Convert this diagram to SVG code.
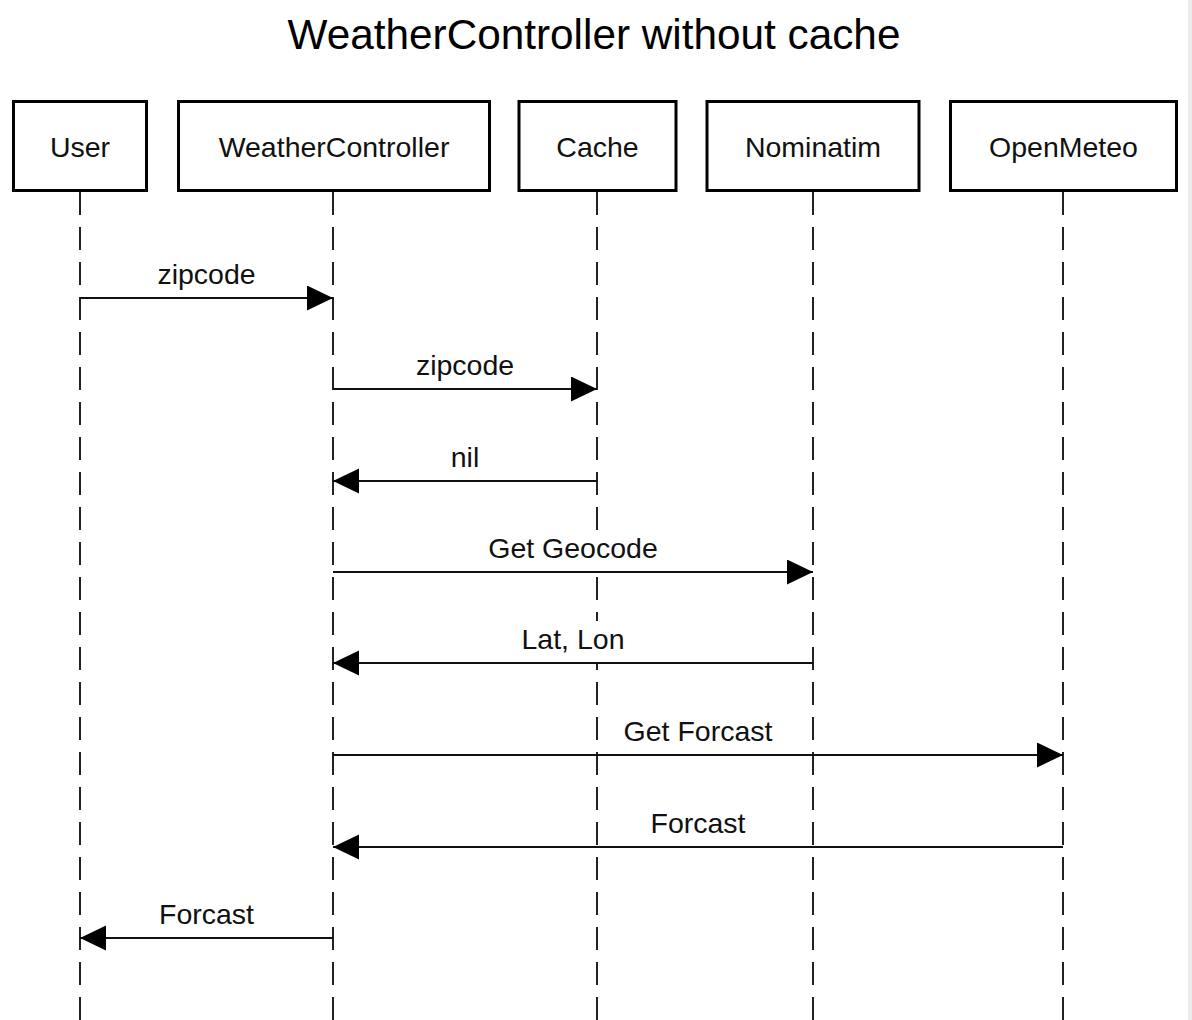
<svg xmlns="http://www.w3.org/2000/svg" width="1192" height="1020" viewBox="0 0 1192 1020">
<style>
.box{fill:#fff;stroke:#000;stroke-width:3}
.lbl{font-family:"Liberation Sans",Arial,Helvetica,sans-serif;font-size:28.5px;fill:#111;text-anchor:middle}
.title{font-family:"Liberation Sans",Arial,Helvetica,sans-serif;font-size:42.3px;fill:#000;text-anchor:middle}
.life{stroke:#222;stroke-width:2;stroke-dasharray:23 12;fill:none}
.msg{stroke:#111;stroke-width:2;fill:none;marker-end:url(#arr)}
.bg{fill:#fff;stroke:none}
</style>
<defs>
<marker id="arr" markerUnits="userSpaceOnUse" markerWidth="27" markerHeight="26" refX="26" refY="12.5" orient="auto">
<path d="M0,0 L26,12.5 L0,25 Z" fill="#000"/>
</marker>
</defs>
<rect width="1192" height="1020" fill="#fff"/>
<rect x="1188" y="0" width="4" height="1020" fill="#ececec"/>
<text class="title" x="594" y="49">WeatherController without cache</text>
<g id="lifelines">
<line class="life" x1="80" y1="192" x2="80" y2="1020"/>
<line class="life" x1="333" y1="192" x2="333" y2="1020"/>
<line class="life" x1="597" y1="192" x2="597" y2="1020"/>
<line class="life" x1="813" y1="192" x2="813" y2="1020"/>
<line class="life" x1="1063" y1="192" x2="1063" y2="1020"/>
</g>
<g id="user"><rect class="box" x="13.5" y="101.5" width="133" height="89"/><text class="lbl" x="80" y="157">User</text></g>
<g id="weathercontroller"><rect class="box" x="178.5" y="101.5" width="311" height="89"/><text class="lbl" x="334" y="157">WeatherController</text></g>
<g id="cache"><rect class="box" x="519" y="101.5" width="157" height="89"/><text class="lbl" x="597.5" y="157">Cache</text></g>
<g id="nominatim"><rect class="box" x="707" y="101.5" width="212" height="89"/><text class="lbl" x="813" y="157">Nominatim</text></g>
<g id="openmeteo"><rect class="box" x="950.5" y="101.5" width="226" height="89"/><text class="lbl" x="1063.5" y="157">OpenMeteo</text></g>
<g id="connectors">
<rect class="bg" x="483" y="530" width="180" height="41"/>
<rect class="bg" x="516" y="621" width="114" height="41"/>
<line class="msg" x1="80" y1="298" x2="333" y2="298"/>
<text class="lbl" x="206.5" y="284">zipcode</text>
<line class="msg" x1="333" y1="389" x2="597" y2="389"/>
<text class="lbl" x="465" y="375">zipcode</text>
<line class="msg" x1="597" y1="481" x2="333" y2="481"/>
<text class="lbl" x="465" y="467">nil</text>
<line class="msg" x1="333" y1="572" x2="813" y2="572"/>
<text class="lbl" x="573" y="558">Get Geocode</text>
<line class="msg" x1="813" y1="663" x2="333" y2="663"/>
<text class="lbl" x="573" y="649">Lat, Lon</text>
<line class="msg" x1="333" y1="755" x2="1063" y2="755"/>
<text class="lbl" x="698" y="741">Get Forcast</text>
<line class="msg" x1="1063" y1="847" x2="333" y2="847"/>
<text class="lbl" x="698" y="833">Forcast</text>
<line class="msg" x1="333" y1="938" x2="80" y2="938"/>
<text class="lbl" x="206.5" y="924">Forcast</text>
</g>
</svg>
